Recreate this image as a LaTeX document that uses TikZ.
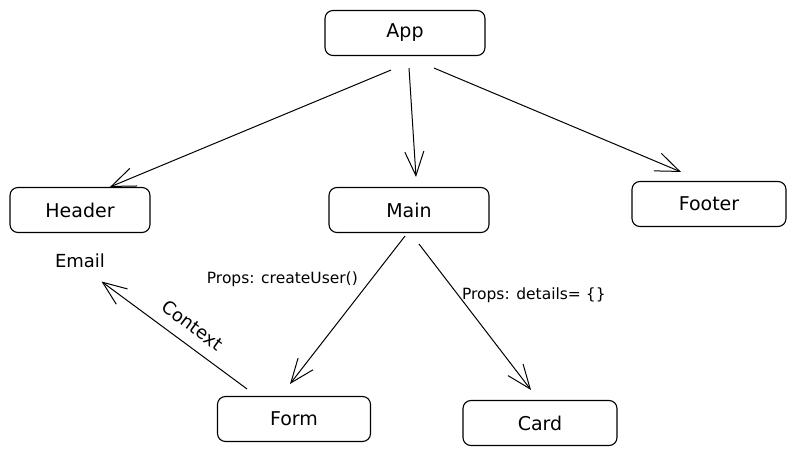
\documentclass[tikz,border=0pt]{standalone}
\usepackage{fontspec}
\setmainfont{DejaVu Sans}
\usetikzlibrary{arrows.meta}

\tikzset{
  comp/.style={draw, rounded corners=8pt, line width=1.1pt, minimum height=45pt, font=\fontsize{19}{22}\selectfont},
  note/.style={font=\fontsize{18}{21}\selectfont},
  lbl/.style={font=\fontsize{15.5}{18}\selectfont},
  arr/.style={-{Straight Barb[length=24pt,width=19pt]}, line width=1pt},
}

\begin{document}
\begin{tikzpicture}[x=1pt,y=-1pt]
            \useasboundingbox (0,0) rectangle (796,455);
            \node[comp, minimum width=160pt] (App) at (405,33) { App };
            \node[comp, minimum width=140pt] (Header) at (80,210) { Header };
            \node[comp, minimum width=160pt] (Main) at (409,210) { Main };
            \node[comp, minimum width=154pt] (Footer) at (709,204) { Footer };
            \node[comp, minimum width=153pt] (Form) at (294,419) { Form };
            \node[comp, minimum width=154pt] (Card) at (540,423) { Card };
            \node[note] (Email) at (80,261) { Email };

            \draw[arr] ([xshift=-14pt,yshift=-14pt]App.south) -- ([xshift=30pt]Header.north);
            \draw[arr] ([xshift=4pt,yshift=-12pt]App.south) -- ([xshift=7pt,yshift=10pt]Main.north);
            \draw[arr] ([xshift=29pt,yshift=-12pt]App.south) -- ([xshift=-28pt,yshift=9pt]Footer.north);
            \draw[arr] ([xshift=-4pt,yshift=-3pt]Main.south) -- node[lbl, pos=0.29, left=10pt] { Props: createUser() } ([xshift=-4pt,yshift=12pt]Form.north);
            \draw[arr] ([xshift=10pt,yshift=-11pt]Main.south) -- node[lbl, pos=0.35, right=0pt] { Props: details= \{\} } ([xshift=-9pt,yshift=10pt]Card.north);
            \draw[arr] ([xshift=-47pt,yshift=7pt]Form.north) -- node[note, pos=0.45, sloped, above=8pt] { Context } ([xshift=-7pt,yshift=-10pt]Email.south east);

        \end{tikzpicture}
\end{document}
